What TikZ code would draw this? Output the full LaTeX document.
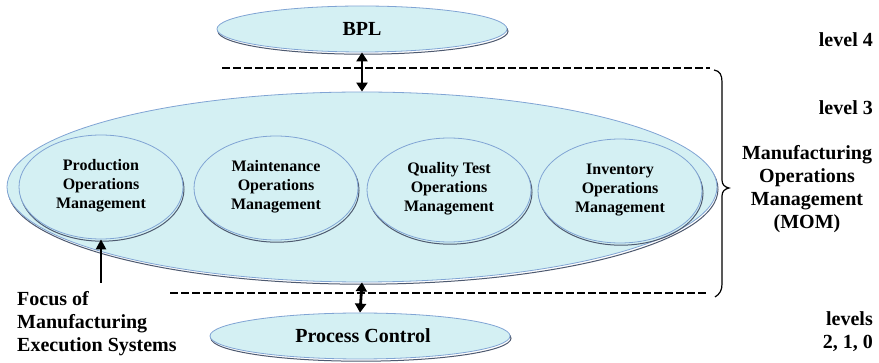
\documentclass[tikz,border=0pt]{standalone}
\usepackage{fontspec}
\setmainfont{Liberation Serif}
\usetikzlibrary{shapes.geometric,arrows.meta}
\definecolor{ovalfill}{RGB}{212,240,243}
\definecolor{ovalline}{RGB}{128,164,212}
\definecolor{ovalshade}{RGB}{78,90,112}
\begin{document}
\begin{tikzpicture}[x=1pt,y=-1pt,
  oval/.style={ellipse, draw=ovalline, fill=ovalfill, line width=0.8pt, inner sep=0pt,
    preaction={draw=ovalshade, line width=1pt, transform canvas={shift={(1pt,-2.2pt)}}}},
  bigtxt/.style={font=\fontsize{20}{23}\selectfont\bfseries, inner sep=0pt},
  smalltxt/.style={font=\fontsize{16}{19}\selectfont\bfseries, align=center},
  levelline/.style={line width=2pt, dash pattern=on 7.5pt off 3.5pt},
  link/.style={line width=2.8pt, {Triangle[length=9pt,width=11pt]}-{Triangle[length=9pt,width=11pt]}},
  pointer/.style={line width=2.4pt, -{Triangle[length=10pt,width=10pt]}}]
\useasboundingbox (0,0) rectangle (879,363);
\fill[white] (0,0) rectangle (879,363);

% level 4
\node[oval, minimum width=290pt, minimum height=46pt] (bpl) at (362,29) {};
\node[bigtxt] (bpltxt) at (362,29) {BPL};

% level 3: MOM with its four activity areas
\node[oval, minimum width=710pt, minimum height=190pt] (mom) at (362,187) {};
\node[oval, minimum width=164pt, minimum height=104pt] (prod)  at (101,187) {};
\node[oval, minimum width=164pt, minimum height=104pt] (maint) at (276,188) {};
\node[oval, minimum width=164pt, minimum height=104pt] (qual)  at (449,190) {};
\node[oval, minimum width=164pt, minimum height=104pt] (inv)   at (620,191) {};
\node[smalltxt] (prodtxt)  at (101,186) {Production\\Operations\\Management};
\node[smalltxt] (mainttxt) at (276,187) {Maintenance\\Operations\\Management};
\node[smalltxt] (qualtxt)  at (449,189) {Quality Test\\Operations\\Management};
\node[smalltxt] (invtxt)   at (620,190) {Inventory\\Operations\\Management};

% levels 2, 1, 0
\node[oval, minimum width=300pt, minimum height=46pt] (pc) at (360,336) {};
\node[bigtxt] (pctxt) at (363,336) {Process Control};

% level boundaries
\coordinate (topL) at (222,68);
\coordinate (topR) at (710,68);
\coordinate (botL) at (170,293);
\coordinate (botR) at (707,293);
\draw[levelline] (topL) -- (topR);
\draw[levelline] (botL) -- (botR);

% links between levels
\draw[link] (bpl.south) -- (mom.north);
\draw[link] (mom.south) -- (pc.north);

% MES focus
\coordinate (focus) at (101,283);
\draw[pointer] (focus) -- (prod.south);
\node[bigtxt, align=left, anchor=west] (focustxt) at (17,324)
  {Focus of\\Manufacturing\\Execution Systems};

% brace spanning level 3
\draw[line width=1.2pt] (714,70) .. controls (720,71) and (722,75) .. (722,82)
  -- (722,180) .. controls (722,185) and (725,187) .. (729,188)
  .. controls (725,189) and (722,191) .. (722,196)
  -- (722,284) .. controls (722,290) and (720,294) .. (715,297);

% level labels
\node[bigtxt, anchor=east] (l4) at (873,40) {level 4};
\node[bigtxt, anchor=east] (l3) at (873,108) {level 3};
\node[bigtxt, align=center] (momtxt) at (807,189)
  {Manufacturing\\Operations\\Management\\(MOM)};
\node[bigtxt, align=right, anchor=east] (l210) at (873,332) {levels\\2, 1, 0};
\end{tikzpicture}
\end{document}
